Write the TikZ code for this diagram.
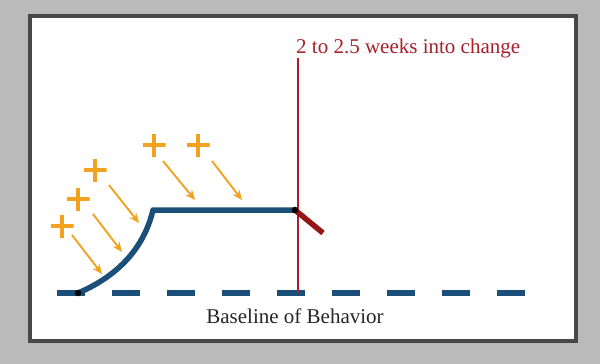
\documentclass[tikz,border=0pt]{standalone}
\usepackage{fontspec}
\setmainfont{Liberation Serif}
\usetikzlibrary{positioning,arrows.meta}

\definecolor{trendblue}{RGB}{28,78,122}
\definecolor{pushorange}{RGB}{242,162,30}
\definecolor{markred}{RGB}{168,32,42}
\definecolor{stubred}{RGB}{150,22,24}

\tikzset{
  trend/.style={trendblue,line width=5.5pt,line join=round},
  push/.style={pushorange,line width=1.9pt,-{Stealth[length=10pt,width=8.5pt]}},
  plusmark/.style={minimum size=23pt,inner sep=0pt,
    path picture={\draw[pushorange,line width=3.6pt]
      (path picture bounding box.north) -- (path picture bounding box.south)
      (path picture bounding box.west) -- (path picture bounding box.east);}},
  dot/.style={circle,fill=black,inner sep=0pt,minimum size=6.5pt}
}

\begin{document}
\begin{tikzpicture}[x=1pt,y=-1pt,every node/.style={font=\fontsize{21}{24}\selectfont}]
  \useasboundingbox (0,0) rectangle (600,364);
  % slide background and frame
  \fill[black!27] (0,0) rectangle (600,364);
  \draw[fill=white,draw=black!72,line width=4pt] (30,16) rectangle (575.5,341);

  % baseline
  \draw[trendblue,line width=5.5pt,dash pattern=on 28pt off 27pt] (57,293) -- (525,293);
  \node[text=black!85] (baselbl) at (295,316) {Baseline of Behavior};

  % time marker
  \node[text=markred,anchor=base west,inner sep=0pt] (when) at (296,53) {2 to 2.5 weeks into change};
  \coordinate (vtop) at (298,58);
  \coordinate (vbot) at (298,293);
  \draw[markred,line width=1.5pt] (vtop) -- (vbot);

  % behaviour curve
  \coordinate (base) at (78,293);
  \coordinate (knee) at (153,210);
  \coordinate (plateau) at (295,210);
  \draw[trend] (base) .. controls (118,276) and (144,248) .. (knee) -- (plateau);
  \draw[stubred,line width=5.5pt] (plateau) -- (323,233);
  \node[dot] (d1) at (base) {};
  \node[dot] (d2) at (plateau) {};

  % reinforcement
  \node[plusmark] (p1) at (62,226) {};
  \node[plusmark] (p2) at (78,199) {};
  \node[plusmark] (p3) at (95,170) {};
  \node[plusmark] (p4) at (154,145) {};
  \node[plusmark] (p5) at (198,145) {};
  \draw[push] (72,235) -- (102,274);
  \draw[push] (93,214) -- (122,252);
  \draw[push] (109,185) -- (139,223);
  \draw[push] (163,161) -- (195,200);
  \draw[push] (212,161) -- (242,200);
\end{tikzpicture}
\end{document}
